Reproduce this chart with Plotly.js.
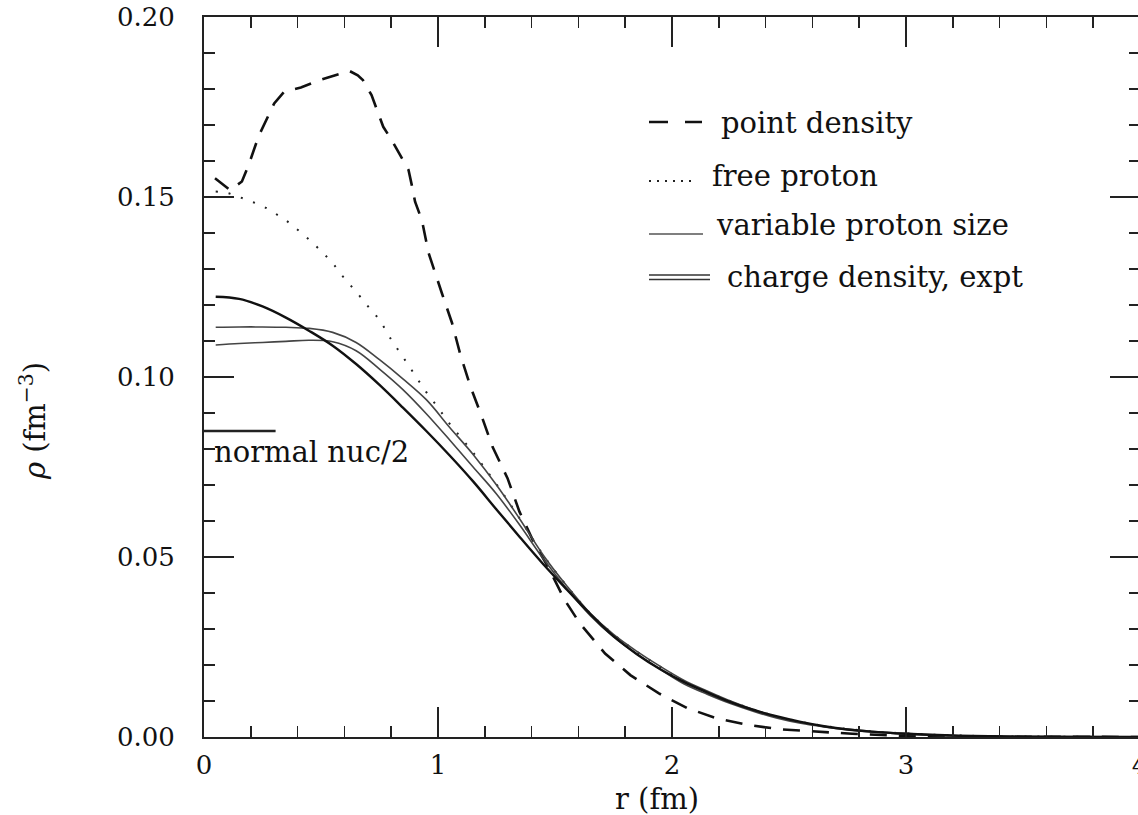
<!DOCTYPE html>
<html>
<head>
<meta charset="utf-8">
<script src="https://cdn.plot.ly/plotly-3.0.1.min.js"></script>
<style>
html,body{margin:0;padding:0;overflow:hidden;background:#fff;}
#chart{width:1162px;height:815px;}
</style>
</head>
<body>
<div id="chart"></div>
<script>
// point density (dashed)
var pointX = [0.047,0.112,0.162,0.191,0.234,0.27,0.30,0.342,0.414,0.486,0.557,0.622,0.657,0.679,0.716,0.766,0.802,0.838,0.874,0.888,0.902,0.931,0.96,1.017,1.06,1.096,1.139,1.19,1.233,1.297,1.348,1.405,1.477,1.542,1.606,1.714,1.822,1.944,2.066,2.195,2.33,2.468,2.627,2.77,3.0,3.3,4.0];
var pointY = [0.1552,0.1519,0.1543,0.1589,0.167,0.1718,0.176,0.1792,0.1804,0.1823,0.1838,0.185,0.1838,0.1825,0.1783,0.1695,0.1658,0.1617,0.1575,0.1533,0.1487,0.1436,0.1344,0.1232,0.115,0.1061,0.0973,0.0885,0.0806,0.0719,0.0626,0.0547,0.0464,0.038,0.0316,0.0232,0.0172,0.0121,0.008,0.0051,0.0033,0.0021,0.0015,0.0009,0.0003,0.0001,0.0];

// free proton (dotted)
var freeX = [0.05,0.10,0.15,0.20,0.25,0.30,0.35,0.40,0.45,0.50,0.55,0.60,0.65,0.70,0.75,0.80,0.85,0.90,0.95,1.0,1.05,1.15,1.25,1.35,1.45,1.55,1.65,1.75,1.85,1.95,2.05,2.2,2.4,2.6,2.8,3.0,3.3,3.6,4.0];
var freeY = [0.1515,0.1511,0.1500,0.1488,0.1475,0.1456,0.1435,0.1409,0.1381,0.1350,0.1316,0.1274,0.1237,0.1197,0.1158,0.1104,0.1056,0.1007,0.0958,0.0915,0.0870,0.0790,0.0702,0.0606,0.0505,0.0420,0.0344,0.0285,0.0237,0.0195,0.0155,0.0112,0.0066,0.0036,0.0019,0.0010,0.0003,0.0001,0.0];

// variable proton size (single line)
var varX = [0.05,0.15,0.25,0.35,0.45,0.55,0.65,0.75,0.85,0.95,1.05,1.15,1.25,1.35,1.45,1.55,1.65,1.75,1.85,1.95,2.05,2.15,2.25,2.35,2.45,2.55,2.65,2.75,2.85,3.0,3.2,3.5,4.0];
var varY = [0.1223,0.1217,0.1196,0.1165,0.1128,0.1087,0.1036,0.0978,0.0915,0.0850,0.0782,0.0710,0.0632,0.0555,0.0480,0.0410,0.0342,0.0280,0.0230,0.0188,0.0153,0.0124,0.0097,0.0075,0.0057,0.0042,0.0030,0.0021,0.0015,0.0009,0.0004,0.0001,0.0];

// charge density, expt (band: upper and lower lines)
var exptX = [0.05,0.15,0.25,0.35,0.45,0.55,0.65,0.75,0.85,0.95,1.05,1.15,1.25,1.35,1.45,1.55,1.65,1.75,1.85,1.95,2.05,2.15,2.25,2.35,2.45,2.55,2.65,2.75,2.85,3.0,3.2,3.5,4.0];
var exptUpperY = [0.1138,0.1139,0.1139,0.1138,0.1135,0.1124,0.1096,0.1048,0.0995,0.0937,0.0860,0.0785,0.0700,0.0605,0.0505,0.0420,0.0344,0.0285,0.0238,0.0196,0.0158,0.0128,0.0100,0.0076,0.0056,0.0041,0.0030,0.0022,0.0016,0.0010,0.0004,0.0001,0.0];
var exptLowerY = [0.1089,0.1093,0.1096,0.1099,0.1102,0.1098,0.1073,0.1022,0.0965,0.0898,0.0825,0.0750,0.0675,0.0588,0.0495,0.0412,0.0338,0.0278,0.0230,0.0188,0.0148,0.0119,0.0093,0.0071,0.0052,0.0038,0.0028,0.0020,0.0014,0.0008,0.0003,0.0001,0.0];

// normal nuclear density / 2 marker
var normalX = [0.0, 0.306];
var normalY = [0.085, 0.085];

var xTickVals = [0,1,2,3,4];
var yTickVals = [0.00,0.05,0.10,0.15,0.20];

var legendLabels = ["point density","free proton","variable proton size","charge density, expt"];

var F = "DejaVu Serif, serif";
var traces = [
  {x: pointX, y: pointY, mode:'lines', line:{color:'#111', width:2.6, dash:'17px,12px'}, name:legendLabels[0]},
  {x: freeX, y: freeY, mode:'lines', line:{color:'#222', width:2, dash:'2px,11px', shape:'spline'}, name:legendLabels[1]},
  {x: exptX, y: exptUpperY, mode:'lines', line:{color:'#444', width:1.6, shape:'spline'}, name:legendLabels[3]},
  {x: exptX, y: exptLowerY, mode:'lines', line:{color:'#444', width:1.6, shape:'spline'}, name:legendLabels[3]},
  {x: varX, y: varY, mode:'lines', line:{color:'#111', width:2.4, shape:'spline'}, name:legendLabels[2]},
  {x: normalX, y: normalY, mode:'lines', line:{color:'#222', width:2.4}, name:'normal nuc/2'}
];

var W = 936; // plot width px (0..4)
function px(p){ return (p-204)/W; }
function py(p){ return (737-p)/720; }

var shapes = [
  {type:'line', xref:'paper', yref:'paper', x0:px(649), x1:px(702), y0:py(122), y1:py(122), line:{color:'#111', width:2.6, dash:'19px,17px'}},
  {type:'line', xref:'paper', yref:'paper', x0:px(649), x1:px(695), y0:py(181), y1:py(181), line:{color:'#222', width:2, dash:'2px,6px'}},
  {type:'line', xref:'paper', yref:'paper', x0:px(649), x1:px(703), y0:py(234), y1:py(234), line:{color:'#555', width:1.4}},
  {type:'line', xref:'paper', yref:'paper', x0:px(649), x1:px(710), y0:py(275), y1:py(275), line:{color:'#333', width:1.6}},
  {type:'line', xref:'paper', yref:'paper', x0:px(649), x1:px(710), y0:py(279.5), y1:py(279.5), line:{color:'#333', width:1.6}}
];

var annFont = {family:F, size:29, color:'#111'};
var annotations = [
  {xref:'paper', yref:'paper', x:px(719), y:py(123), text:legendLabels[0], showarrow:false, xanchor:'left', yanchor:'middle', font:annFont},
  {xref:'paper', yref:'paper', x:px(710), y:py(176), text:legendLabels[1], showarrow:false, xanchor:'left', yanchor:'middle', font:annFont},
  {xref:'paper', yref:'paper', x:px(714), y:py(225), text:legendLabels[2], showarrow:false, xanchor:'left', yanchor:'middle', font:annFont},
  {xref:'paper', yref:'paper', x:px(725), y:py(277), text:legendLabels[3], showarrow:false, xanchor:'left', yanchor:'middle', font:annFont},
  {xref:'paper', yref:'paper', x:px(212), y:py(452), text:'normal nuc/2', showarrow:false, xanchor:'left', yanchor:'middle', font:annFont},
  {xref:'paper', yref:'paper', x:px(657), y:py(799), text:'r (fm)', showarrow:false, xanchor:'center', yanchor:'middle', font:annFont},
  {xref:'paper', yref:'paper', x:px(33), y:py(421), text:'<i>ρ</i> (fm<sup>−3</sup>)', showarrow:false, xanchor:'center', yanchor:'middle', textangle:-90, font:annFont}
];

var layout = {
  width:1162, height:815,
  margin:{l:204, r:22, t:17, b:78},
  paper_bgcolor:'#fff', plot_bgcolor:'#fff',
  showlegend:false,
  font:{family:F, size:26, color:'#111'},
  xaxis:{range:[0,4], tickvals:xTickVals, ticktext:xTickVals.map(String),
    showgrid:false, zeroline:false, showline:true, linecolor:'#222', linewidth:2,
    mirror:'ticks', ticks:'inside', ticklen:30, tickwidth:1.6, tickcolor:'#222',
    ticklabelstandoff:4,
    minor:{dtick:0.2, tick0:0, ticks:'inside', ticklen:11, tickwidth:1.6, tickcolor:'#222', showgrid:false},
    tickfont:{family:F, size:26, color:'#111'}},
  yaxis:{range:[0,0.2], tickvals:yTickVals, tickformat:'.2f',
    showgrid:false, zeroline:false, showline:true, linecolor:'#222', linewidth:2,
    mirror:'ticks', ticks:'inside', ticklen:30, tickwidth:1.6, tickcolor:'#222',
    ticklabelstandoff:22,
    minor:{dtick:0.01, tick0:0, ticks:'inside', ticklen:11, tickwidth:1.6, tickcolor:'#222', showgrid:false},
    tickfont:{family:F, size:26, color:'#111'}},
  shapes:shapes,
  annotations:annotations
};

Plotly.newPlot('chart', traces, layout, {displayModeBar:false, staticPlot:true});
</script>
</body>
</html>
